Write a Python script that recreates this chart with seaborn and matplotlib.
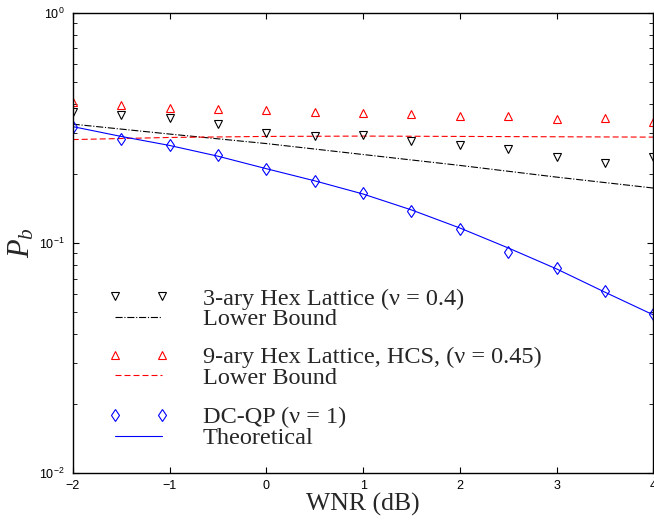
import numpy as np
import pandas as pd
import matplotlib
matplotlib.use("Agg")
import matplotlib.pyplot as plt
from matplotlib.lines import Line2D
from matplotlib.legend_handler import HandlerLine2D
from matplotlib.ticker import LogLocator, FixedLocator
import seaborn as sns

# ---- data ----
wnr = [-2, -1.5, -1, -0.5, 0, 0.5, 1, 1.5, 2, 2.5, 3, 3.5, 4]
hex3_sim = [0.371, 0.359, 0.348, 0.328, 0.299, 0.291, 0.293, 0.278, 0.266, 0.256, 0.237, 0.223, 0.235]
hex9_sim = [0.409, 0.398, 0.386, 0.382, 0.378, 0.371, 0.366, 0.363, 0.356, 0.356, 0.346, 0.348, 0.336]
dcqp_sim = [0.320, 0.282, 0.267, 0.240, 0.209, 0.186, 0.164, 0.137, 0.115, 0.091, 0.078, 0.062, 0.049]
dcqp_theory = [0.320, 0.290, 0.265, 0.238, 0.210, 0.186, 0.163, 0.139, 0.116, 0.095, 0.077, 0.061, 0.0486]
bound_x = [-2, -1, 0, 1, 2, 3, 4]
hex3_bound = [0.328, 0.297, 0.270, 0.242, 0.217, 0.193, 0.173]
hex9_bound = [0.281, 0.287, 0.290, 0.291, 0.290, 0.289, 0.288]
xticks = [-2, -1, 0, 1, 2, 3, 4]

labels = ["3-ary Hex Lattice (\u03bd = 0.4)", "Lower Bound",
          "9-ary Hex Lattice, HCS, (\u03bd = 0.45)", "Lower Bound",
          "DC-QP (\u03bd = 1)", "Theoretical"]

sns.set_theme(style="ticks")
plt.rcParams["font.family"] = ["Liberation Sans", "DejaVu Sans"]
plt.rcParams["mathtext.fontset"] = "custom"
plt.rcParams["mathtext.it"] = "Liberation Serif:italic"
plt.rcParams["mathtext.rm"] = "Liberation Serif"

W, H = 654, 523
fig = plt.figure(figsize=(W / 100, H / 100), dpi=100)
L, R, T, B = 72.7, 653.5, 12.7, 473.0
ax = fig.add_axes([L / W, 1 - B / H, (R - L) / W, (B - T) / H])
ax.set_yscale("log")

lw = 0.8
red_dash = (5.4, 2.7)
sns.lineplot(x=bound_x, y=hex3_bound, ax=ax, color="black", linestyle="-.", linewidth=lw, legend=False)
sns.lineplot(x=bound_x, y=hex9_bound, ax=ax, color="red", linestyle=(0, red_dash), linewidth=lw, legend=False)
sns.lineplot(x=wnr, y=dcqp_theory, ax=ax, color="blue", linestyle="-", linewidth=lw, legend=False)

ms_tri, ms_dia = 5.6, 6.5
mk = dict(linestyle="none", markerfacecolor="none", markeredgewidth=0.8, legend=False)
sns.lineplot(x=wnr, y=hex3_sim, ax=ax, marker="v", markersize=ms_tri, markeredgecolor="black", color="black", **mk)
sns.lineplot(x=wnr, y=hex9_sim, ax=ax, marker="^", markersize=ms_tri, markeredgecolor="red", color="red", **mk)
sns.lineplot(x=wnr, y=dcqp_sim, ax=ax, marker="d", markersize=ms_dia, markeredgecolor="blue", color="blue", **mk)

ax.set_xlim(-2, 4)
ax.set_ylim(1e-2, 1)
ax.xaxis.set_major_locator(FixedLocator(xticks))
ax.yaxis.set_major_locator(LogLocator(base=10, numticks=10))
ax.yaxis.set_minor_locator(LogLocator(base=10, subs=np.arange(2, 10), numticks=20))
ax.tick_params(which="both", direction="in", top=True, right=True, colors="black", labelsize=9)
ax.tick_params(which="major", length=4, width=0.8)
ax.tick_params(which="minor", length=2.8, width=0.6)
ax.tick_params(axis="x", pad=5)
ax.tick_params(axis="y", pad=6)
for sp in ax.spines.values():
    sp.set_color("black")
    sp.set_linewidth(1.0)

ax.set_xlabel("WNR (dB)", fontsize=18.5, family="Liberation Serif")
ax.xaxis.set_label_coords(0.5, (B - 493) / (B - T))
ax.set_ylabel("$P_b$", fontsize=22)
ax.yaxis.set_label_coords((36 - L) / (R - L), 0.5)

# ---- legends (three groups, MATLAB style with two markers) ----
hmap = {Line2D: HandlerLine2D(marker_pad=0, numpoints=2)}
def mk_handle(marker, color, ms):
    return Line2D([], [], linestyle="none", marker=marker, markersize=ms,
                  markerfacecolor="none", markeredgecolor=color, markeredgewidth=0.8)
def ln_handle(ls, color):
    return Line2D([], [], linestyle=ls, color=color, linewidth=lw)

groups = [
    ([mk_handle("v", "black", ms_tri), ln_handle("-.", "black")], labels[0:2], 287.5),
    ([mk_handle("^", "red", ms_tri), ln_handle((0, red_dash), "red")], labels[2:4], 346.0),
    ([mk_handle("d", "blue", ms_dia), ln_handle("-", "blue")], labels[4:6], 406.5),
]
fs = 17.5
fpx = fs * 100 / 72
for i, (hs, ls_, ytop) in enumerate(groups):
    leg = ax.legend(hs, ls_, loc="upper left", bbox_to_anchor=(115 / W, 1 - ytop / H),
                    bbox_transform=fig.transFigure, frameon=False, borderpad=0,
                    borderaxespad=0, handlelength=46.7 / fpx,
                    handletextpad=41 / fpx, labelspacing=-0.05,
                    handler_map=hmap, prop={"family": "Liberation Serif", "size": fs})
    if i < len(groups) - 1:
        ax.add_artist(leg)

fig.savefig("out.png", dpi=100)
